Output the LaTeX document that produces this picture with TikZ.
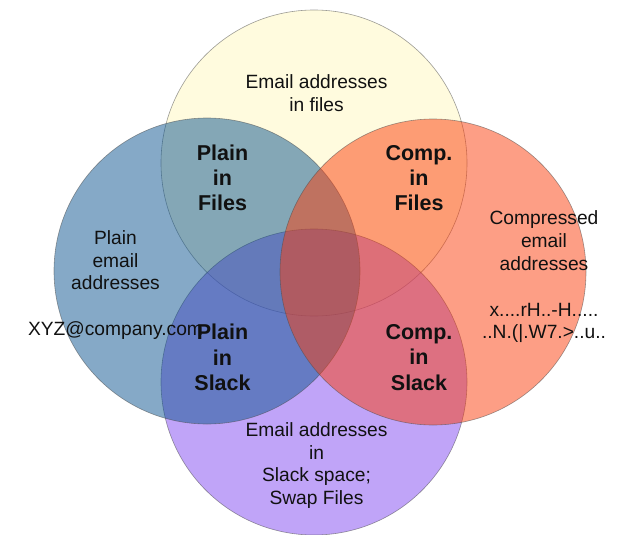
\documentclass[tikz,border=0pt]{standalone}
\usepackage{fontspec}
\setmainfont{Liberation Sans}
\definecolor{setfiles}{RGB}{255,247,189}
\definecolor{setslack}{RGB}{129,73,241}
\definecolor{setplain}{RGB}{11,84,143}
\definecolor{setcomp}{RGB}{251,61,11}
\definecolor{inktext}{RGB}{17,17,17}
\begin{document}
\begin{tikzpicture}[x=1pt,y=-1pt,
  setdisc/.style={fill opacity=0.5,draw=black!70,draw opacity=0.55,line width=0.6pt},
  plainlabel/.style={inner sep=0pt,align=center,text=inktext,
    font=\fontsize{19.2}{22.8}\selectfont},
  zonelabel/.style={inner sep=0pt,align=center,text=inktext,
    font=\fontsize{21.5}{25.2}\selectfont\bfseries}]
\useasboundingbox (0,0) rectangle (618,535);

% the four sets, drawn bottom to top
\path[setdisc,fill=setfiles] (314,163) circle[radius=153pt];
\path[setdisc,fill=setslack] (314,382) circle[radius=153pt];
\path[setdisc,fill=setplain] (207,271) circle[radius=153pt];
\path[setdisc,fill=setcomp]  (433,272) circle[radius=153pt];

% set descriptions
\node[plainlabel] (files) at (316.5,93.5) {Email addresses\\in files};
\node[plainlabel] (slack) at (316.5,465.5) {Email addresses\\in\\Slack space;\\Swap Files};
\node[plainlabel] (plain) at (115.5,285) {Plain\\email\\addresses\\[22.8pt]XYZ@company.com};
\node[plainlabel] (comp) at (544,277) {Compressed\\email\\addresses\\[22.8pt]x....rH..-H.....\\..N.(|.W7.>..u..};

% intersection zones
\node[zonelabel] (pf) at (222.5,178) {Plain\\in\\Files};
\node[zonelabel] (cf) at (419,178) {Comp.\\in\\Files};
\node[zonelabel] (ps) at (222.5,357.5) {Plain\\in\\Slack};
\node[zonelabel] (cs) at (419,357.5) {Comp.\\in\\Slack};
\end{tikzpicture}
\end{document}
